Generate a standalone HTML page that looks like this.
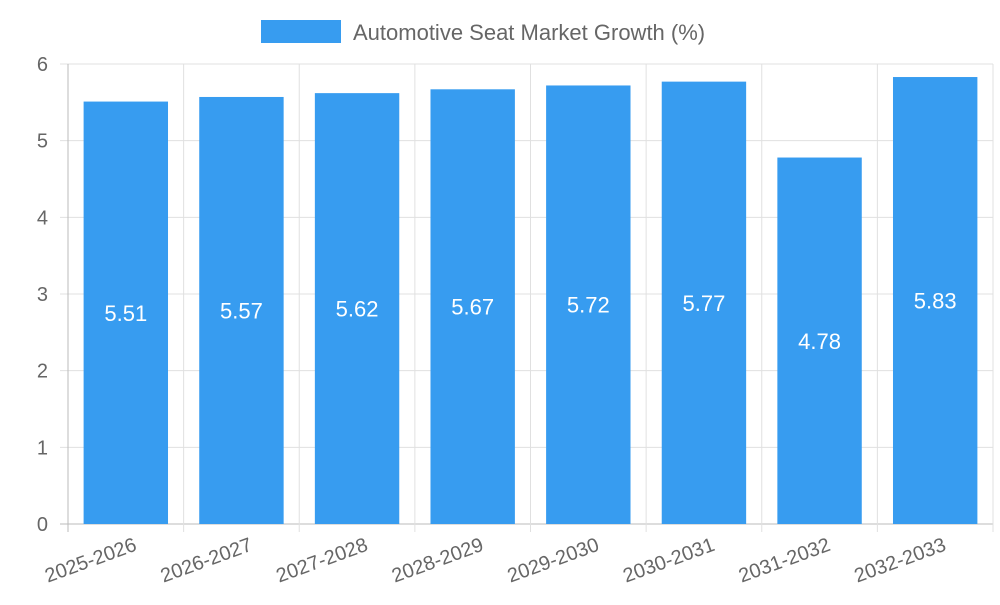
<!DOCTYPE html>
<html><head><meta charset="utf-8"><style>
body{margin:0;background:#fff;font-family:"Liberation Sans",sans-serif}
</style></head><body>
<svg width="1000" height="600" id="c" font-family="Liberation Sans, sans-serif">
<g>
<rect x="261" y="20" width="80" height="23" fill="#379cf0"/>
<text x="353" y="40" font-size="22" fill="#666">Automotive Seat Market Growth (%)</text>
</g>
</svg>
<script>
const categories=["2025-2026","2026-2027","2027-2028","2028-2029","2029-2030","2030-2031","2031-2032","2032-2033"];
const values=[5.51,5.57,5.62,5.67,5.72,5.77,4.78,5.83];
const yTicks=[0,1,2,3,4,5,6];
const svg=document.getElementById('c');const NS="http://www.w3.org/2000/svg";
const L=68,R=993,T=64,B=524,yMax=6;
const y=v=>B-(v/yMax)*(B-T);
const band=(R-L)/categories.length;
const x=i=>L+band*i;
function mk(t,a){const e=document.createElementNS(NS,t);for(const k in a)e.setAttribute(k,a[k]);svg.appendChild(e);return e;}
yTicks.forEach(t=>{
 const g=mk('line',{x1:L-8,x2:R,y1:y(t),y2:y(t),stroke:t===0?'#bbb':'#e0e0e0','stroke-width':1});
 
 
 const tx=mk('text',{x:L-20,y:y(t)+7,'text-anchor':'end','font-size':20,fill:'#666'});tx.textContent=t;
 
 
});
for(let i=0;i<=categories.length;i++){
 const g=mk('line',{x1:x(i),x2:x(i),y1:T,y2:B+8,stroke:i===0?'#bbb':'#e0e0e0','stroke-width':1});
 
 
}
categories.forEach((c,i)=>{
 const bw=band*0.73,bx=x(i)+(band-bw)/2;
 const r=mk('rect',{x:bx,y:y(values[i]),width:bw,height:B-y(values[i]),fill:'#379cf0'});
 
 
 const lv=mk('text',{x:bx+bw/2,y:(y(values[i])+B)/2+8,'text-anchor':'middle','font-size':22,fill:'#fff'});lv.textContent=values[i].toFixed(2);
 
 
 const cx=x(i)+band/2+12,cy=B+26;
 const tl=mk('text',{x:cx,y:cy,'text-anchor':'end','font-size':20,fill:'#666',transform:`rotate(-20 ${cx} ${cy})`});tl.textContent=c;
 
 
});
</script>
</body></html>
